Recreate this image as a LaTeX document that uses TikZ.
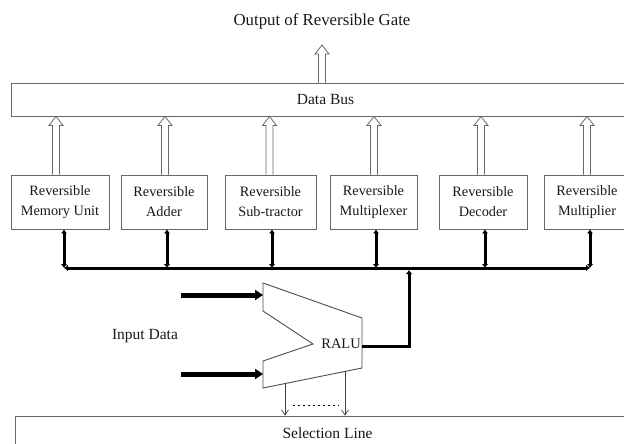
\documentclass[tikz,border=0pt]{standalone}
\usepackage{fontspec}
\setmainfont{Liberation Serif}
\usetikzlibrary{arrows.meta,calc}
\begin{document}
\begin{tikzpicture}[x=1pt,y=-1pt,
  txt/.style={text=black!90, inner sep=0pt},
  lbl/.style={txt, font=\fontsize{15.5}{18}\selectfont},
  boxline/.style={draw=black!60, line width=0.9pt},
  unit/.style={boxline, fill=white, minimum height=54pt, inner sep=1pt, align=center,
    text=black!90, font=\fontsize{14.3}{20}\selectfont},
  blockarrow/.style={draw=black!60, line width=0.8pt, fill=white, line join=miter,
    to path={let \p1=(\tikztostart), \p2=(\tikztotarget) in
      (\x1-3.5pt,\y1) -- (\x1-3.5pt,\y2-9pt) -- (\x1-7pt,\y2-9pt) -- (\x1,\y2)
      -- (\x1+7pt,\y2-9pt) -- (\x1+3.5pt,\y2-9pt) -- (\x1+3.5pt,\y1)}},
  thickline/.style={line width=3pt, {Latex[length=4pt,width=6.5pt]}-{Latex[length=4pt,width=6.5pt]}},
  inarrow/.style={line width=5pt, -{Triangle[length=8pt,width=10pt]}},
  selarrow/.style={draw=black!75, line width=0.7pt, -{Straight Barb[length=5pt,width=7pt]}},
  ralu/.style={draw=black!70, line width=0.9pt, fill=white, line join=miter}
]
\useasboundingbox (0,0) rectangle (624,444);
\clip (0,0) rectangle (624,444);

% title and data bus
\node[txt, font=\fontsize{16.8}{19}\selectfont] (title) at (322,21) {Output of Reversible Gate};
\node[boxline, minimum width=629pt, minimum height=33pt, inner sep=0pt, lbl] (bus) at (325.5,99.5) {Data Bus};
\coordinate (outtop) at (322,45);
\draw[blockarrow] (bus.north -| outtop) to (outtop);

% units
\node[unit, minimum width=98pt] (b1) at (60,202)    {Reversible\\Memory Unit};
\node[unit, minimum width=86pt] (b2) at (164,202)   {Reversible\\Adder};
\node[unit, minimum width=91pt] (b3) at (270.5,202) {Reversible\\Sub-tractor};
\node[unit, minimum width=87pt] (b4) at (373.5,202) {Reversible\\Multiplexer};
\node[unit, minimum width=88pt] (b5) at (483,202)   {Reversible\\Decoder};
\node[unit, minimum width=86pt] (b6) at (587,202)   {Reversible\\Multiplier};

\draw[blockarrow] ([xshift=-4pt]b1.north) to ([xshift=-4pt]b1.north |- bus.south);
\draw[blockarrow] ([xshift=1pt]b2.north) to ([xshift=1pt]b2.north |- bus.south);
\draw[blockarrow] ([xshift=-1pt]b3.north) to ([xshift=-1pt]b3.north |- bus.south);
\draw[blockarrow] ([xshift=0.5pt]b4.north) to ([xshift=0.5pt]b4.north |- bus.south);
\draw[blockarrow] ([xshift=-2pt]b5.north) to ([xshift=-2pt]b5.north |- bus.south);
\draw[blockarrow] ([xshift=0pt]b6.north) to ([xshift=0pt]b6.north |- bus.south);

% control bus
\coordinate (busL) at (64,268);
\coordinate (busR) at (590,268);
\draw[thickline] (busL) -- (busR);
\draw[thickline] ([xshift=4pt]b1.south) -- ([xshift=4pt]b1.south |- busL);
\draw[thickline] ([xshift=3pt]b2.south) -- ([xshift=3pt]b2.south |- busL);
\draw[thickline] ([xshift=1.5pt]b3.south) -- ([xshift=1.5pt]b3.south |- busL);
\draw[thickline] ([xshift=2.5pt]b4.south) -- ([xshift=2.5pt]b4.south |- busL);
\draw[thickline] ([xshift=2pt]b5.south) -- ([xshift=2pt]b5.south |- busL);
\draw[thickline] ([xshift=3pt]b6.south) -- ([xshift=3pt]b6.south |- busL);

% RALU
\coordinate (r1) at (263,283);
\coordinate (r2) at (362,318);
\coordinate (r3) at (362,368);
\coordinate (r4) at (263,388);
\coordinate (r5) at (263,361);
\coordinate (r6) at (313,344);
\coordinate (r7) at (263,311);
\draw[ralu] (r1) -- (r2) -- (r3) -- (r4) -- (r5) -- (r6) -- (r7) -- cycle;
\node[txt, font=\fontsize{14.5}{17}\selectfont, anchor=east] (rlabel) at (361,344) {RALU};

% inputs
\coordinate (in1) at (263,295);
\coordinate (in2) at (263,374);
\coordinate (in1s) at (181,295);
\coordinate (in2s) at (181,374);
\draw[inarrow] (in1s) -- (in1);
\draw[inarrow] (in2s) -- (in2);
\node[lbl] (indata) at (145,336) {Input Data};

% output of RALU to control bus
\coordinate (rout) at (362,346);
\coordinate (rup) at (409,270);
\draw[line width=3pt, -{Latex[length=4pt,width=6.5pt]}] (rout) -| (rup);

% selection line
\node[boxline, minimum width=625pt, minimum height=34pt, inner sep=0pt, lbl] (sel) at (327.5,433) {Selection Line};
\coordinate (s1) at ($(r4)!0.222!(r3)$);
\coordinate (s2) at ($(r4)!0.828!(r3)$);
\draw[selarrow] (s1) -- (s1 |- sel.north);
\draw[selarrow] (s2) -- (s2 |- sel.north);
\coordinate (d1) at (293,405);
\coordinate (d2) at (339,405);
\draw[line width=1pt, dash pattern=on 2pt off 3pt] (d1) -- (d2);
\end{tikzpicture}
\end{document}
